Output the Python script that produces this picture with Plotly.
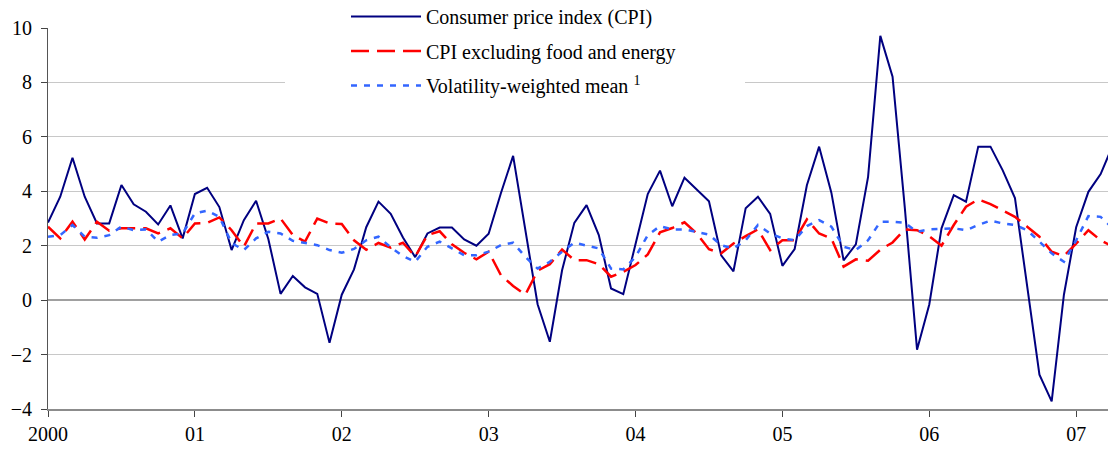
import plotly.graph_objects as go

# Monthly observations, Jan 2000 onwards
months = [f"{2000 + i // 12}-{i % 12 + 1:02d}" for i in range(88)]

cpi = [2.85, 3.80, 5.23, 3.80, 2.82, 2.82, 4.23, 3.52, 3.25, 2.78, 3.48, 2.27,
       3.90, 4.13, 3.42, 1.84, 2.94, 3.65, 2.25, 0.23, 0.89, 0.47, 0.23, -1.57,
       0.20, 1.13, 2.68, 3.62, 3.17, 2.30, 1.58, 2.45, 2.67, 2.67, 2.23, 2.00,
       2.44, 3.93, 5.30, 2.51, -0.15, -1.53, 1.10, 2.84, 3.49, 2.39, 0.43, 0.22,
       2.10, 3.90, 4.76, 3.45, 4.50, 4.06, 3.63, 1.65, 1.06, 3.38, 3.80, 3.17,
       1.26, 1.88, 4.22, 5.64, 3.95, 1.46, 2.05, 4.53, 9.71, 8.21, 3.40, -1.82,
       -0.16, 2.64, 3.86, 3.62, 5.64, 5.64, 4.77, 3.75, 0.52, -2.74, -3.72, 0.20,
       2.68, 3.98, 4.63, 5.70]

core = [2.70, 2.27, 2.88, 2.23, 2.88, 2.55, 2.64, 2.64, 2.64, 2.45, 2.64, 2.27,
        2.82, 2.84, 3.04, 2.57, 1.96, 2.82, 2.82, 3.00, 2.39, 2.15, 3.00, 2.82,
        2.80, 2.20, 1.85, 2.10, 1.93, 2.11, 1.60, 2.39, 2.53, 2.05, 1.74, 1.50,
        1.78, 0.92, 0.52, 0.20, 1.08, 1.32, 1.86, 1.47, 1.47, 1.32, 0.86, 1.04,
        1.29, 1.68, 2.49, 2.65, 2.86, 2.45, 1.87, 1.72, 2.08, 2.35, 2.60, 1.84,
        2.20, 2.20, 2.97, 2.45, 2.27, 1.23, 1.50, 1.45, 1.85, 2.12, 2.60, 2.57,
        2.35, 2.00, 2.76, 3.43, 3.70, 3.53, 3.31, 3.06, 2.70, 2.33, 1.78, 1.62,
        2.08, 2.57, 2.20, 1.96]

vwm = [2.33, 2.39, 2.76, 2.33, 2.29, 2.39, 2.70, 2.57, 2.60, 2.15, 2.39, 2.45,
       3.19, 3.29, 3.06, 2.10, 1.84, 2.27, 2.51, 2.45, 2.18, 2.11, 2.02, 1.84,
       1.74, 1.88, 2.20, 2.33, 1.94, 1.62, 1.41, 1.96, 2.15, 1.90, 1.65, 1.65,
       1.78, 2.02, 2.11, 1.59, 1.16, 1.41, 1.78, 2.11, 2.00, 1.90, 1.16, 1.13,
       1.59, 2.39, 2.72, 2.60, 2.60, 2.51, 2.41, 2.02, 1.90, 2.20, 2.76, 2.45,
       2.27, 2.20, 2.72, 2.94, 2.70, 1.96, 1.84, 2.20, 2.88, 2.88, 2.84, 2.51,
       2.60, 2.62, 2.64, 2.57, 2.76, 2.92, 2.82, 2.76, 2.57, 2.15, 1.72, 1.41,
       2.20, 3.09, 3.06, 2.64]

tick_labels = ["2000", "01", "02", "03", "04", "05", "06", "07"]
y_ticks = [-4, -2, 0, 2, 4, 6, 8, 10]

x = list(range(len(months)))
tick_pos = [12 * i for i in range(len(tick_labels))]

FONT = "Liberation Serif, Times New Roman, serif"

fig = go.Figure()
fig.add_trace(go.Scatter(x=x, y=cpi, mode="lines", name="Consumer price index (CPI)",
                         legendgroup="a",
                         line=dict(color="#000080", width=2)))
fig.add_trace(go.Scatter(x=x, y=core, mode="lines", name="CPI excluding food and energy",
                         legendgroup="b",
                         line=dict(color="#ff0000", width=2.5, dash="18px,8px")))
fig.add_trace(go.Scatter(x=x, y=vwm, mode="lines", name="Volatility-weighted mean <sup>1</sup>",
                         legendgroup="c",
                         line=dict(color="#3366ff", width=2.5, dash="6px,7px")))

# white backdrop behind legend (hides gridlines like the original legend box)
fig.add_shape(type="rect", xref="paper", yref="paper",
              x0=(285 - 48) / 1060, x1=(745 - 48) / 1060,
              y0=(409 - 100) / 381, y1=1.1,
              fillcolor="white", line=dict(width=0), layer="above")

fig.update_layout(
    width=1108, height=449,
    margin=dict(l=48, r=0, t=28, b=40, autoexpand=False),
    paper_bgcolor="white", plot_bgcolor="white",
    font=dict(family=FONT, size=20, color="#000000"),
    showlegend=True,
    legend=dict(x=(346 - 48) / 1060, xanchor="left", y=1 + 31 / 381, yanchor="top",
                bgcolor="rgba(0,0,0,0)", font=dict(family=FONT, size=20),
                itemwidth=70, tracegroupgap=5.5, traceorder="grouped"),
    xaxis=dict(range=[0, 1060 / 12.24], tickvals=tick_pos, ticktext=tick_labels,
               showgrid=False, zeroline=False, showline=True, linecolor="#8c8c8c",
               linewidth=2, ticks="outside", ticklen=6, tickcolor="#444444",
               tickwidth=1, tickfont=dict(family=FONT, size=20)),
    yaxis=dict(range=[-4, 10], tickvals=y_ticks, showgrid=True, gridcolor="#c8c8c8",
               gridwidth=1, zeroline=True, zerolinecolor="#a0a0a0", zerolinewidth=2,
               showline=True, linecolor="#555555", linewidth=1, ticks="outside",
               ticklen=6, tickcolor="#444444", tickwidth=1, ticklabelstandoff=5,
               tickfont=dict(family=FONT, size=20)),
)

fig.write_html("out.html", config={"displayModeBar": False},
               post_script="document.body.style.margin='0';document.body.style.padding='0';")
